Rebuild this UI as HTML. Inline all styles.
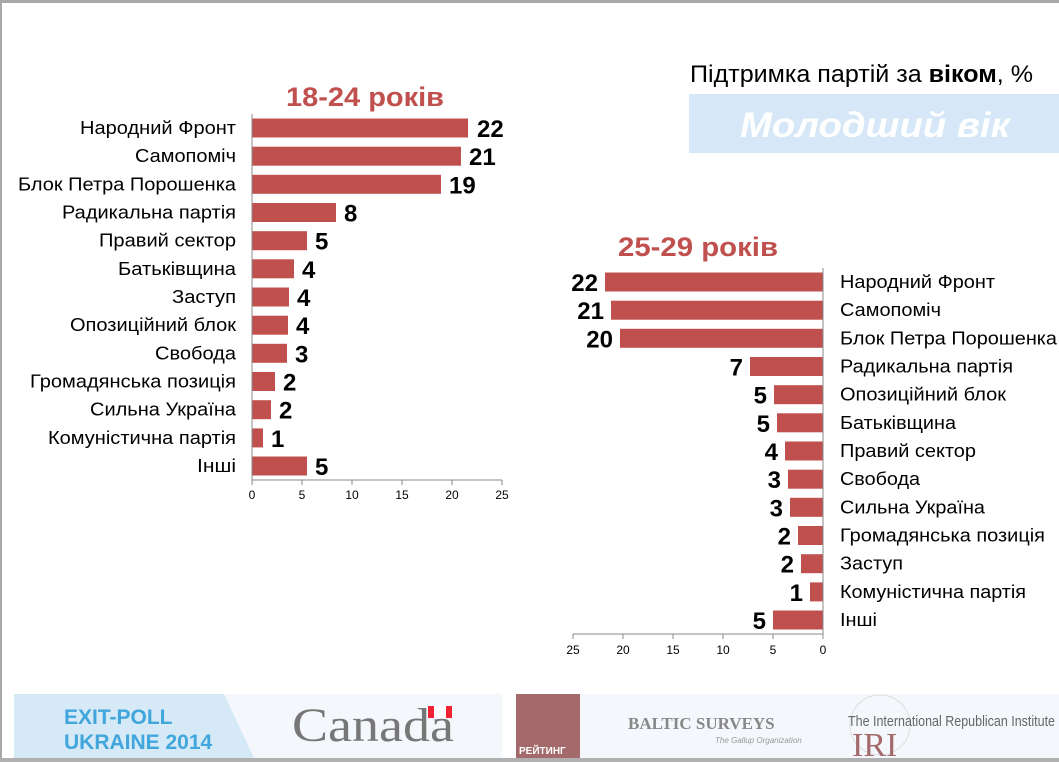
<!DOCTYPE html>
<html><head><meta charset="utf-8"><style>
html,body{margin:0;padding:0;background:#fff;}
svg{display:block;font-family:"Liberation Sans",sans-serif;}
.l{font-size:18px;fill:#000}
.n{font-size:24px;font-weight:bold;fill:#000}
.t{font-size:12px;fill:#000}
</style></head><body>
<svg width="1059" height="762" viewBox="0 0 1059 762">
<rect x="0" y="0" width="1059" height="762" fill="#fff"/>
<rect x="0" y="0" width="1059" height="3" fill="#a8a8a8"/>
<rect x="0" y="0" width="2" height="762" fill="#a8a8a8"/>
<rect x="0" y="758" width="1059" height="4" fill="#b0b0b0"/>

<text x="690" y="82" textLength="343" lengthAdjust="spacingAndGlyphs" style="font-size:24px">Підтримка партій за <tspan font-weight="bold">віком</tspan>, %</text>
<rect x="689" y="94" width="370" height="59" fill="#d6e8f7"/>
<text x="740" y="137" textLength="270" lengthAdjust="spacingAndGlyphs" style="font-size:35px;font-weight:bold;font-style:italic;fill:#fff">Молодший вік</text>

<text x="286" y="106" textLength="158" lengthAdjust="spacingAndGlyphs" style="font-size:27px;font-weight:bold;fill:#c0504d">18-24 років</text>
<text x="618" y="256" textLength="160" lengthAdjust="spacingAndGlyphs" style="font-size:27px;font-weight:bold;fill:#c0504d">25-29 років</text>

<!-- Left chart -->
<g fill="#c0504d">
<rect x="252" y="118.5" width="216" height="19"/>
<rect x="252" y="146.7" width="209" height="19"/>
<rect x="252" y="174.8" width="189" height="19"/>
<rect x="252" y="203" width="84" height="19"/>
<rect x="252" y="231.2" width="55" height="19"/>
<rect x="252" y="259.3" width="42" height="19"/>
<rect x="252" y="287.5" width="37" height="19"/>
<rect x="252" y="315.7" width="36" height="19"/>
<rect x="252" y="343.8" width="35" height="19"/>
<rect x="252" y="372" width="23" height="19"/>
<rect x="252" y="400.2" width="19" height="19"/>
<rect x="252" y="428.4" width="11" height="19"/>
<rect x="252" y="456.5" width="55" height="19"/>
</g>
<g stroke="#888" stroke-width="1">
<line x1="252" y1="114" x2="252" y2="480"/>
<line x1="252" y1="480" x2="502" y2="480"/>
<line x1="252" y1="485" x2="252" y2="480"/><line x1="302" y1="485" x2="302" y2="480"/><line x1="352" y1="485" x2="352" y2="480"/><line x1="402" y1="485" x2="402" y2="480"/><line x1="452" y1="485" x2="452" y2="480"/><line x1="502" y1="485" x2="502" y2="480"/>
</g>
<g text-anchor="middle">
<text x="252" y="499" class="t">0</text><text x="302" y="499" class="t">5</text><text x="352" y="499" class="t">10</text><text x="402" y="499" class="t">15</text><text x="452" y="499" class="t">20</text><text x="502" y="499" class="t">25</text>
</g>
<g lengthAdjust="spacingAndGlyphs">
<text class="l" x="80" y="134" textLength="156" lengthAdjust="spacingAndGlyphs">Народний Фронт</text>
<text class="l" x="135" y="162.2" textLength="101" lengthAdjust="spacingAndGlyphs">Самопоміч</text>
<text class="l" x="18" y="190.3" textLength="218" lengthAdjust="spacingAndGlyphs">Блок Петра Порошенка</text>
<text class="l" x="62" y="218.5" textLength="174" lengthAdjust="spacingAndGlyphs">Радикальна партія</text>
<text class="l" x="99" y="246.7" textLength="137" lengthAdjust="spacingAndGlyphs">Правий сектор</text>
<text class="l" x="118" y="274.8" textLength="118" lengthAdjust="spacingAndGlyphs">Батьківщина</text>
<text class="l" x="172" y="303" textLength="64" lengthAdjust="spacingAndGlyphs">Заступ</text>
<text class="l" x="70" y="331.2" textLength="166" lengthAdjust="spacingAndGlyphs">Опозиційний блок</text>
<text class="l" x="155" y="359.3" textLength="81" lengthAdjust="spacingAndGlyphs">Свобода</text>
<text class="l" x="30" y="387.5" textLength="206" lengthAdjust="spacingAndGlyphs">Громадянська позиція</text>
<text class="l" x="90" y="415.7" textLength="146" lengthAdjust="spacingAndGlyphs">Сильна Україна</text>
<text class="l" x="48" y="443.9" textLength="188" lengthAdjust="spacingAndGlyphs">Комуністична партія</text>
<text class="l" x="197" y="472" textLength="39" lengthAdjust="spacingAndGlyphs">Інші</text>
</g>
<g>
<text class="n" x="477" y="137">22</text>
<text class="n" x="469" y="165.2">21</text>
<text class="n" x="449" y="193.3">19</text>
<text class="n" x="344" y="221.5">8</text>
<text class="n" x="315" y="249.7">5</text>
<text class="n" x="302" y="277.8">4</text>
<text class="n" x="297" y="306">4</text>
<text class="n" x="296" y="334.2">4</text>
<text class="n" x="295" y="362.3">3</text>
<text class="n" x="283" y="390.5">2</text>
<text class="n" x="279" y="418.7">2</text>
<text class="n" x="271" y="446.9">1</text>
<text class="n" x="315" y="475">5</text>
</g>

<!-- Right chart -->
<g fill="#c0504d">
<rect x="605" y="272.5" width="218" height="19"/>
<rect x="611" y="300.7" width="212" height="19"/>
<rect x="620" y="328.8" width="203" height="19"/>
<rect x="750" y="357" width="73" height="19"/>
<rect x="774" y="385.2" width="49" height="19"/>
<rect x="777" y="413.3" width="46" height="19"/>
<rect x="785" y="441.5" width="38" height="19"/>
<rect x="788" y="469.7" width="35" height="19"/>
<rect x="790" y="497.8" width="33" height="19"/>
<rect x="798" y="526" width="25" height="19"/>
<rect x="801" y="554.2" width="22" height="19"/>
<rect x="810" y="582.4" width="13" height="19"/>
<rect x="773" y="610.5" width="50" height="19"/>
</g>
<g stroke="#888" stroke-width="1">
<line x1="823" y1="268" x2="823" y2="634"/>
<line x1="573" y1="634" x2="823" y2="634"/>
<line x1="573" y1="639" x2="573" y2="634"/><line x1="623" y1="639" x2="623" y2="634"/><line x1="673" y1="639" x2="673" y2="634"/><line x1="723" y1="639" x2="723" y2="634"/><line x1="773" y1="639" x2="773" y2="634"/><line x1="823" y1="639" x2="823" y2="634"/>
</g>
<g text-anchor="middle">
<text x="573" y="654" class="t">25</text><text x="623" y="654" class="t">20</text><text x="673" y="654" class="t">15</text><text x="723" y="654" class="t">10</text><text x="773" y="654" class="t">5</text><text x="823" y="654" class="t">0</text>
</g>
<g>
<text class="l" x="840" y="288" textLength="155" lengthAdjust="spacingAndGlyphs">Народний Фронт</text>
<text class="l" x="840" y="316.2" textLength="101" lengthAdjust="spacingAndGlyphs">Самопоміч</text>
<text class="l" x="840" y="344.3" textLength="217" lengthAdjust="spacingAndGlyphs">Блок Петра Порошенка</text>
<text class="l" x="840" y="372.5" textLength="173" lengthAdjust="spacingAndGlyphs">Радикальна партія</text>
<text class="l" x="840" y="400.7" textLength="166" lengthAdjust="spacingAndGlyphs">Опозиційний блок</text>
<text class="l" x="840" y="428.8" textLength="116" lengthAdjust="spacingAndGlyphs">Батьківщина</text>
<text class="l" x="840" y="457" textLength="136" lengthAdjust="spacingAndGlyphs">Правий сектор</text>
<text class="l" x="840" y="485.2" textLength="80" lengthAdjust="spacingAndGlyphs">Свобода</text>
<text class="l" x="840" y="513.3" textLength="145" lengthAdjust="spacingAndGlyphs">Сильна Україна</text>
<text class="l" x="840" y="541.5" textLength="205" lengthAdjust="spacingAndGlyphs">Громадянська позиція</text>
<text class="l" x="840" y="569.7" textLength="63" lengthAdjust="spacingAndGlyphs">Заступ</text>
<text class="l" x="840" y="597.9" textLength="186" lengthAdjust="spacingAndGlyphs">Комуністична партія</text>
<text class="l" x="840" y="626" textLength="37" lengthAdjust="spacingAndGlyphs">Інші</text>
</g>
<g text-anchor="end">
<text class="n" x="598" y="291">22</text>
<text class="n" x="604" y="319.2">21</text>
<text class="n" x="613" y="347.3">20</text>
<text class="n" x="743" y="375.5">7</text>
<text class="n" x="767" y="403.7">5</text>
<text class="n" x="770" y="431.8">5</text>
<text class="n" x="778" y="460">4</text>
<text class="n" x="781" y="488.2">3</text>
<text class="n" x="783" y="516.3">3</text>
<text class="n" x="791" y="544.5">2</text>
<text class="n" x="794" y="572.7">2</text>
<text class="n" x="803" y="600.9">1</text>
<text class="n" x="766" y="629">5</text>
</g>

<!-- Footer -->
<rect x="14" y="694" width="1045" height="64" fill="#f4f7fb"/>
<polygon points="14,694 224,694 254,758 14,758" fill="#d5e9f7"/>
<text x="64" y="724" style="font-size:21px;font-weight:bold;fill:#41a6dc">EXIT-POLL</text>
<text x="64" y="749" style="font-size:21px;font-weight:bold;fill:#41a6dc">UKRAINE 2014</text>
<text x="292" y="741" textLength="162" lengthAdjust="spacingAndGlyphs" style="font-family:'Liberation Serif',serif;font-size:48px;fill:#777">Canada</text>
<rect x="428" y="706" width="24" height="12" fill="#e23"/>
<rect x="434" y="706" width="12" height="12" fill="#fff"/>
<rect x="502" y="694" width="14" height="64" fill="#fff"/>
<rect x="516" y="694" width="64" height="64" fill="#a46a6b"/>
<text x="519" y="754" style="font-size:10px;font-weight:bold;fill:#fff">РЕЙТИНГ</text>
<text x="628" y="729" style="font-family:'Liberation Serif',serif;font-size:17px;font-weight:bold;fill:#888">BALTIC SURVEYS</text>
<text x="715" y="743" style="font-size:8px;font-style:italic;fill:#999">The Gallup Organization</text>
<circle cx="880" cy="725" r="30" fill="none" stroke="#ddd"/>
<text x="848" y="726" textLength="207" lengthAdjust="spacingAndGlyphs" style="font-size:15px;fill:#666">The International Republican Institute</text>
<text x="852" y="756" style="font-family:'Liberation Serif',serif;font-size:34px;fill:#a46a6b">IRI</text>
</svg>
</body></html>
